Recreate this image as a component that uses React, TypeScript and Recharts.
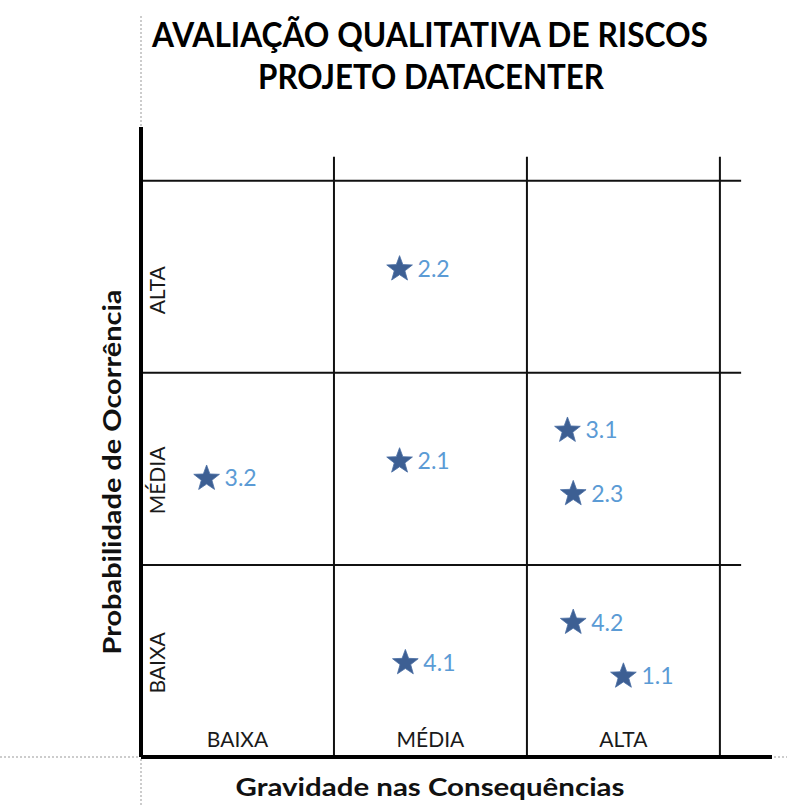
import React from "react";
import { ScatterChart, Scatter, XAxis, YAxis, ReferenceLine } from "recharts";

// ---- data ----
const riskIds = ["2.2", "3.2", "2.1", "3.1", "2.3", "4.2", "4.1", "1.1"];
const severity = [1.34, 0.34, 1.34, 2.21, 2.24, 2.24, 1.37, 2.5];
const probability = [2.54, 1.45, 1.54, 1.7, 1.37, 0.7, 0.49, 0.42];

const xCategories = ["BAIXA", "MÉDIA", "ALTA"];
const xTickPositions = [0.5, 1.5, 2.5];
const yCategories = ["BAIXA", "MÉDIA", "ALTA"];
const yTickPositions = [0.49, 1.44, 2.43];

const gridLevels = [1, 2, 3];
const hLineEnd = 3.11;
const vLineEnd = 3.125;

const titleLines = ["AVALIAÇÃO QUALITATIVA DE RISCOS", "PROJETO DATACENTER"];
const xTitle = "Gravidade nas Consequências";
const yTitle = "Probabilidade de Ocorrência";

const points = riskIds.map((id, i) => ({ id, x: severity[i], y: probability[i] }));

const FONT = "Lato, 'Open Sans', 'Noto Sans', sans-serif";

const starPoints = (cx: number, cy: number, ro: number, ri: number) => {
  const pts: string[] = [];
  for (let k = 0; k < 10; k++) {
    const r = k % 2 === 0 ? ro : ri;
    const a = -Math.PI / 2 + (k * Math.PI) / 5;
    pts.push(`${(cx + r * Math.cos(a)).toFixed(2)},${(cy + r * Math.sin(a)).toFixed(2)}`);
  }
  return pts.join(" ");
};

const StarShape = (props: any) => {
  const { cx, cy, payload } = props;
  if (cx == null || cy == null) return null;
  return (
    <g>
      <polygon points={starPoints(cx, cy, 13.5, 5.6)} fill="#3D5F93" stroke="#4A6FA5" strokeWidth={0.8} />
      <text x={cx + 18} y={cy + 8} fill="#5B9BD5" fontSize={23} fontFamily={FONT}>
        {payload.id}
      </text>
    </g>
  );
};

const XTick = (props: any) => {
  const { x, index } = props;
  return (
    <text x={x} y={747} textAnchor="middle" fontSize={21} fontFamily={FONT} fill="#1a1a1a">
      {xCategories[index]}
    </text>
  );
};

const YTick = (props: any) => {
  const { y, index } = props;
  return (
    <text
      transform={`translate(165,${y}) rotate(-90)`}
      textAnchor="middle"
      fontSize={21}
      fontFamily={FONT}
      fill="#1a1a1a"
    >
      {yCategories[index]}
    </text>
  );
};

export default function App() {
  return (
    <div style={{ position: "absolute", left: 0, top: 0, width: 787, height: 805, background: "#fff" }}>
      <ScatterChart
        width={787}
        height={805}
        margin={{ top: 127, right: 15, bottom: 18, left: 111 }}
      >
        <XAxis
          type="number"
          dataKey="x"
          domain={[0, 3.27]}
          ticks={xTickPositions}
          interval={0}
          height={30}
          tickLine={false}
          axisLine={{ stroke: "#000", strokeWidth: 4 }}
          tick={<XTick />}
          allowDataOverflow
        />
        <YAxis
          type="number"
          dataKey="y"
          domain={[0, 3.28]}
          ticks={yTickPositions}
          interval={0}
          width={30}
          tickLine={false}
          axisLine={{ stroke: "#000", strokeWidth: 4 }}
          tick={<YTick />}
          allowDataOverflow
        />
        {gridLevels.map((v) => (
          <ReferenceLine
            key={`h${v}`}
            segment={[{ x: 0, y: v }, { x: hLineEnd, y: v }]}
            stroke="#111"
            strokeWidth={2}
            ifOverflow="visible"
          />
        ))}
        {gridLevels.map((v) => (
          <ReferenceLine
            key={`v${v}`}
            segment={[{ x: v, y: 0 }, { x: v, y: vLineEnd }]}
            stroke="#111"
            strokeWidth={2}
            ifOverflow="visible"
          />
        ))}
        <Scatter data={points} shape={<StarShape />} isAnimationActive={false} />
      </ScatterChart>
      <svg
        width={787}
        height={805}
        style={{ position: "absolute", left: 0, top: 0, pointerEvents: "none" }}
      >
        <line x1={141} y1={16} x2={141} y2={126} stroke="#999" strokeWidth={1} strokeDasharray="2 2" />
        <line x1={141} y1={759} x2={141} y2={805} stroke="#999" strokeWidth={1} strokeDasharray="2 2" />
        <line x1={0} y1={757} x2={139} y2={757} stroke="#999" strokeWidth={1} strokeDasharray="2 2" />
        <line x1={774} y1={757} x2={787} y2={757} stroke="#999" strokeWidth={1} strokeDasharray="2 2" />
        <text
          x={430}
          y={47}
          textAnchor="middle"
          fontSize={34}
          fontWeight="bold"
          fontFamily={FONT}
          textLength={556}
          lengthAdjust="spacingAndGlyphs"
          fill="#000"
        >
          {titleLines[0]}
        </text>
        <text
          x={431}
          y={89}
          textAnchor="middle"
          fontSize={34}
          fontWeight="bold"
          fontFamily={FONT}
          textLength={346}
          lengthAdjust="spacingAndGlyphs"
          fill="#000"
        >
          {titleLines[1]}
        </text>
        <text
          x={430}
          y={796}
          textAnchor="middle"
          fontSize={25}
          fontWeight="bold"
          fontFamily={FONT}
          textLength={389}
          lengthAdjust="spacingAndGlyphs"
          fill="#111"
        >
          {xTitle}
        </text>
        <text
          transform="translate(121,472) rotate(-90)"
          textAnchor="middle"
          fontSize={25}
          fontWeight="bold"
          fontFamily={FONT}
          textLength={365}
          lengthAdjust="spacingAndGlyphs"
          fill="#111"
        >
          {yTitle}
        </text>
      </svg>
    </div>
  );
}
